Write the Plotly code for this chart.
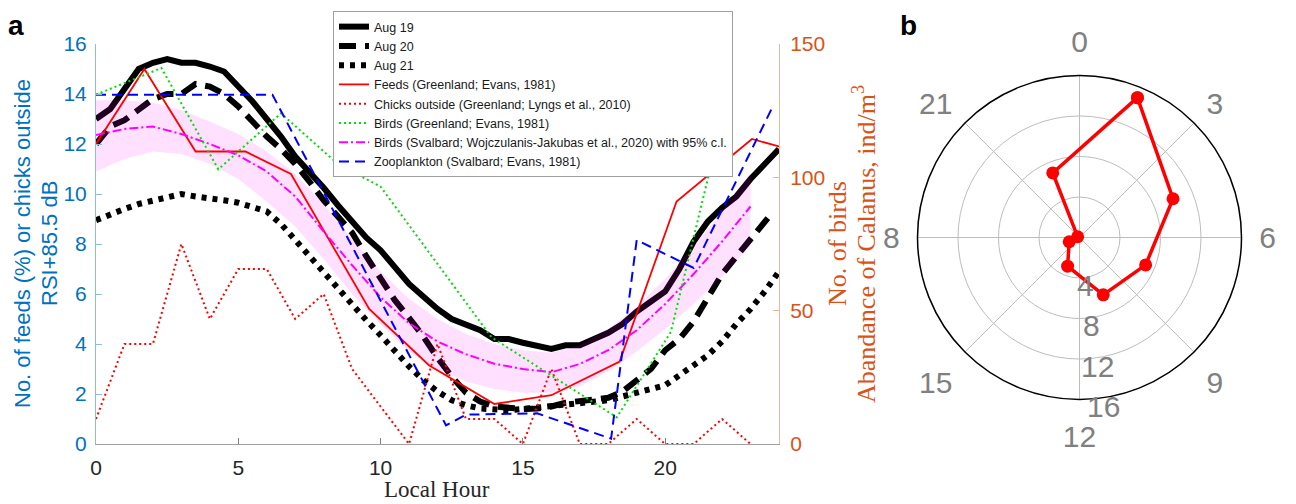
import math
import plotly.graph_objects as go

# ---------------- panel a data ----------------
rsi_hours = [0, 0.5, 1, 1.5, 2, 2.5, 3, 3.5, 4, 4.5, 5, 5.5, 6, 6.5, 7, 7.5, 8, 8.5, 9, 9.5,
             10, 10.5, 11, 11.5, 12, 12.5, 13, 13.5, 14, 14.5, 15, 15.5, 16, 16.5, 17, 17.5,
             18, 18.5, 19, 19.5, 20, 20.5, 21, 21.5, 22, 22.5, 23, 23.5, 24]
aug19_rsi = [13.0, 13.4, 14.2, 15.0, 15.25, 15.4, 15.25, 15.25, 15.1, 14.9, 14.3, 13.7, 13.0,
             12.3, 11.5, 10.9, 10.25, 9.55, 8.9, 8.25, 7.75, 7.05, 6.4, 5.9, 5.4, 5.0, 4.8,
             4.55, 4.2, 4.2, 4.05, 3.95, 3.8, 3.95, 3.95, 4.2, 4.45, 4.8, 5.3, 5.7, 6.1, 7.0,
             8.1, 8.9, 9.45, 9.9, 10.6, 11.2, 11.8]
aug20_hours = [0, 0.5, 1, 1.5, 2, 2.5, 3, 3.5, 4, 4.5, 5, 5.5, 6, 6.5, 7, 7.5, 8, 8.5, 9, 9.5,
               10, 10.5, 11, 11.5, 12, 12.5, 13, 13.5, 14, 14.5, 15, 15.5, 16, 16.5, 17, 17.5,
               18, 18.5, 19, 19.5, 20, 20.5, 21, 21.5, 22, 22.5, 23, 23.5, 23.8]
aug20_rsi = [12.0, 12.7, 12.95, 13.35, 13.8, 14.0, 14.0, 14.4, 14.3, 14.0, 13.5, 12.9, 12.3,
             11.8, 11.2, 10.5, 9.75, 9.1, 8.45, 7.5, 6.6, 5.75, 5.05, 4.3, 3.45, 2.7, 2.05,
             1.7, 1.5, 1.42, 1.4, 1.42, 1.5, 1.65, 1.7, 1.75, 1.85, 2.1, 2.55, 3.0, 3.75, 4.2,
             4.9, 5.8, 6.8, 7.5, 8.2, 8.95, 9.3]
aug21_rsi = [8.95, 9.2, 9.4, 9.6, 9.75, 9.85, 10.0, 9.9, 9.85, 9.75, 9.65, 9.5, 9.3, 8.8, 8.15,
             7.55, 6.9, 6.25, 5.6, 4.95, 4.35, 3.7, 3.1, 2.55, 2.1, 1.75, 1.55, 1.42, 1.38,
             1.35, 1.4, 1.45, 1.5, 1.55, 1.6, 1.65, 1.75, 1.9, 2.05, 2.2, 2.35, 2.75, 3.15,
             3.55, 4.1, 4.8, 5.4, 6.1, 6.9]

feeds_hours = [0, 1.7, 3.5, 5.25, 6.85, 9.6, 11.7, 14.0, 16.0, 18.4, 20.4, 23.05, 24.0]
feeds_pct = [12.0, 15.0, 11.7, 11.7, 10.8, 5.4, 3.15, 1.6, 1.95, 3.3, 9.7, 12.2, 11.9]

chicks_hours = [0, 1, 2, 3, 4, 5, 6, 7, 8, 9, 10, 11, 12, 13, 14, 15, 16, 17, 18, 19, 20, 21, 22, 23]
chicks_outside = [1, 4, 4, 8, 5, 7, 7, 5, 6, 3, 1.5, 0, 4, 1, 1, 0, 3, 0, 0, 1, 0, 0, 1, 0]

greenland_bird_hours = [0, 2.3, 4.3, 6.5, 8.5, 10.0, 13.9, 18.3, 20.2, 22.3]
greenland_birds = [131, 141, 103, 124, 105, 96.5, 40, 10, 42, 135]

svalbard_hours = [0, 1, 2, 3, 4, 5, 6, 7, 8, 9, 10, 11, 12, 13, 14, 15, 16, 17, 18, 19, 20, 21, 22, 23]
svalbard_birds = [12.36, 12.6, 12.7, 12.4, 12.0, 11.55, 10.9, 9.9, 8.5, 7.15, 5.87, 4.83, 4.1,
                  3.59, 3.21, 3.0, 2.87, 3.2, 3.75, 4.55, 5.6, 6.8, 8.1, 9.5]
svalbard_upper = [13.75, 13.75, 13.65, 13.35, 12.9, 12.4, 11.7, 10.8, 9.6, 8.2, 6.9, 5.8, 5.0,
                  4.4, 4.0, 3.75, 3.65, 3.95, 4.6, 5.5, 6.6, 7.9, 9.3, 10.85]
svalbard_lower = [10.9, 11.4, 11.7, 11.6, 11.2, 10.6, 9.7, 8.7, 7.4, 6.0, 4.8, 3.7, 3.0, 2.5,
                  2.2, 2.05, 2.05, 2.3, 2.9, 3.7, 4.6, 5.6, 6.7, 7.95]

zoo_hours = [0, 6.2, 12.3, 13.0, 15.5, 18.1, 19.0, 21.0, 23.8]
zoo_abundance = [131, 131, 7, 11, 11.5, 2, 76.5, 66, 127]

# ---------------- panel b data ----------------
polar_hours = [1.5, 4.5, 7.5, 10.5, 13.5, 16.5, 19.5, 22.5, 1.5]
polar_values = [14.95, 10.0, 7.07, 6.13, 3.07, 1.1, 0.2, 6.9, 14.95]
polar_tick_hours = [0, 3, 6, 9, 12, 15, 18, 21]
polar_tick_text = ["0", "3", "6", "9", "12", "15", "8", "21"]
radial_ticks = [4, 8, 12, 16]
radial_max = 16

# the page body has an 8px margin: the figure starts 8px right/down of the window corner
OFF = 8
FW, FH = 1296 - OFF, 504 - OFF


def px(x):
    return (x - OFF) / FW


def py(y):
    return 1 - (y - OFF) / FH


SANS = "Liberation Sans, Arial, Helvetica, sans-serif"
SERIF = "Liberation Serif, Times New Roman, serif"
BLUE = "#0072BD"
ORANGE = "#D95319"
GRAY = "#808080"

fig = go.Figure()

fig.add_trace(go.Scatter(x=rsi_hours, y=aug19_rsi, mode="lines", name="Aug 19",
                         line=dict(color="black", width=6)))
fig.add_trace(go.Scatter(x=aug20_hours, y=aug20_rsi, mode="lines", name="Aug 20",
                         line=dict(color="black", width=6, dash="17px,9px")))
fig.add_trace(go.Scatter(x=rsi_hours, y=aug21_rsi, mode="lines", name="Aug 21",
                         line=dict(color="black", width=6, dash="5px,6px")))

fig.add_trace(go.Scatter(x=svalbard_hours + svalbard_hours[::-1],
                         y=svalbard_upper + svalbard_lower[::-1],
                         mode="lines", fill="toself", fillcolor="rgba(255,0,255,0.12)",
                         line=dict(width=0, color="rgba(0,0,0,0)"), showlegend=False,
                         hoverinfo="skip"))

fig.add_trace(go.Scatter(x=feeds_hours, y=feeds_pct, mode="lines",
                         name="Feeds (Greenland; Evans, 1981)",
                         line=dict(color="#FF0000", width=1.8)))
fig.add_trace(go.Scatter(x=chicks_hours, y=chicks_outside, mode="lines",
                         name="Chicks outside (Greenland; Lyngs et al., 2010)",
                         line=dict(color="#FF0000", width=2, dash="2px,3px")))
fig.add_trace(go.Scatter(x=greenland_bird_hours, y=greenland_birds, mode="lines",
                         name="Birds (Greenland; Evans, 1981)", yaxis="y2",
                         line=dict(color="#00E000", width=2, dash="2px,3px")))
fig.add_trace(go.Scatter(x=svalbard_hours, y=svalbard_birds, mode="lines",
                         name="Birds (Svalbard; Wojczulanis-Jakubas et al., 2020) with 95% c.l.",
                         line=dict(color="#FF00FF", width=2, dash="9px,3px,2px,3px")))
fig.add_trace(go.Scatter(x=zoo_hours, y=zoo_abundance, mode="lines",
                         name="Zooplankton (Svalbard; Evans, 1981)", yaxis="y2",
                         line=dict(color="#0000FF", width=2, dash="10px,6px")))

fig.add_trace(go.Scatterpolar(theta=[h * 15 for h in polar_hours], r=polar_values,
                              mode="lines+markers", showlegend=False,
                              line=dict(color="#FF0000", width=3.5),
                              marker=dict(color="#FF0000", size=13)))

x0, x1 = 96, 779
y_top, y_bot = 44, 444
cx, cy, rad = 1079.5, 237.5, 162
fig.update_layout(
    width=FW, height=FH, margin=dict(l=0, r=0, t=0, b=0, autoexpand=False),
    paper_bgcolor="white", plot_bgcolor="white",
    font=dict(family=SANS),
    xaxis=dict(domain=[px(x0), px(x1)], range=[0, 24], tickvals=[0, 5, 10, 15, 20],
               automargin=False,
               showgrid=False, zeroline=False, showline=True, linecolor="#a0a0a0",
               linewidth=1, ticks="inside", ticklen=6, tickcolor="#808080",
               tickfont=dict(size=21, color="#262626"), ticklabelstandoff=5),
    yaxis=dict(domain=[py(y_bot), py(y_top)], range=[0, 16], dtick=2,
               automargin=False,
               showgrid=False, zeroline=False, showline=True, linecolor="#8cbde0",
               ticks="inside", ticklen=6, tickcolor="#8cbde0",
               tickfont=dict(size=21, color=BLUE), ticklabelstandoff=4),
    yaxis2=dict(overlaying="y", side="right", anchor="x", range=[0, 150],
                automargin=False,
                tickvals=[0, 50, 100, 150], showgrid=False, zeroline=False,
                showline=True, linecolor="#f0b79c", ticks="inside", ticklen=6,
                tickcolor="#f0b79c", tickfont=dict(size=21, color=ORANGE),
                ticklabelstandoff=6),
    legend=dict(x=px(333), y=py(11), xanchor="left", yanchor="top",
                bgcolor="white", bordercolor="#a0a0a0", borderwidth=1,
                font=dict(family=SANS, size=12.5, color="#1a1a1a"),
                tracegroupgap=0, itemwidth=30),
    polar=dict(domain=dict(x=[px(cx - rad), px(cx + rad)], y=[py(cy + rad), py(cy - rad)]),
               bgcolor="white",
               angularaxis=dict(direction="clockwise", rotation=90,
                                tickmode="array",
                                tickvals=[h * 15 for h in polar_tick_hours],
                                ticktext=polar_tick_text,
                                tickfont=dict(size=30, color=GRAY),
                                showline=True, linecolor="black", linewidth=1.5,
                                gridcolor="#bdbdbd", gridwidth=1,
                                ticks="outside", ticklen=11, tickcolor="rgba(0,0,0,0)"),
               radialaxis=dict(range=[0, radial_max], tickmode="array", tickvals=radial_ticks,
                               showticklabels=False,
                               showline=False, gridcolor="#bdbdbd", gridwidth=1,
                               angle=-90, ticks="")),
)

ann = [
    dict(text="<b>a</b>", x=px(16), y=py(26), font=dict(size=28, color="black")),
    dict(text="<b>b</b>", x=px(908), y=py(26), font=dict(size=28, color="black")),
    dict(text="No. of feeds (%) or chicks outside", x=px(22), y=py(244), textangle=-90,
         font=dict(size=22, color=BLUE)),
    dict(text="RSI+85.5 dB", x=px(49), y=py(244), textangle=-90,
         font=dict(size=22, color=BLUE)),
    dict(text="No. of birds", x=px(837), y=py(244), textangle=-90,
         font=dict(size=26, color=ORANGE, family=SERIF)),
    dict(text="Abandance of Calanus, ind/m<sup>3</sup>", x=px(864), y=py(244),
         textangle=-90, font=dict(size=26, color=ORANGE, family=SERIF)),
    dict(text="Local Hour", x=px(437), y=py(489.5), font=dict(size=23, color="#262626",
                                                            family=SERIF)),
]
# ring labels of panel b, set beside each ring just right of the 12 o'clock spoke
tilt = math.radians(8.4)
for v in radial_ticks:
    rp = v / radial_max * rad
    ann.append(dict(text=str(v), x=px(cx + rp * math.sin(tilt)), y=py(cy + rp + 7),
                    font=dict(size=30, color=GRAY)))
for a in ann:
    a.update(xref="paper", yref="paper", showarrow=False, xanchor="center", yanchor="middle")
    fig.add_annotation(**a)

fig.write_html("out.html")
